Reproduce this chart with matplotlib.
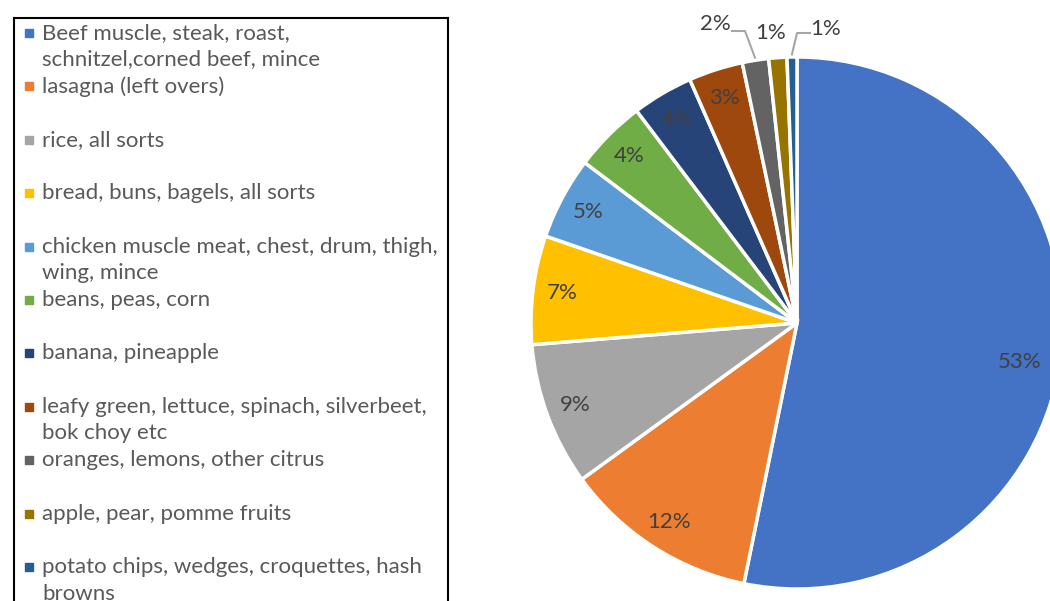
import matplotlib
matplotlib.use("Agg")
import matplotlib.pyplot as plt
from matplotlib.patches import Rectangle
import numpy as np

plt.rcParams['font.family'] = ['Lato', 'DejaVu Sans']

labels = [
    "Beef muscle, steak, roast,\nschnitzel,corned beef, mince",
    "lasagna (left overs)",
    "rice, all sorts",
    "bread, buns, bagels, all sorts",
    "chicken muscle meat, chest, drum, thigh,\nwing, mince",
    "beans, peas, corn",
    "banana, pineapple",
    "leafy green, lettuce, spinach, silverbeet,\nbok choy etc",
    "oranges, lemons, other citrus",
    "apple, pear, pomme fruits",
    "potato chips, wedges, croquettes, hash\nbrowns",
]
shares = [53.2, 11.8, 8.7, 6.6, 5.0, 4.4, 3.7, 3.3, 1.6, 1.1, 0.6]
colors = ["#4472C4", "#ED7D31", "#A5A5A5", "#FFC000", "#5B9BD5", "#70AD47",
          "#264478", "#9E480E", "#636363", "#997300", "#255E91"]

W, H = 1050, 601
fig = plt.figure(figsize=(W / 100, H / 100), dpi=100)

# pie, centre at (797, 323) px, radius 266 px
cx, cy, R = 797, 323, 266
ax = fig.add_axes([(cx - R) / W, (H - cy - R) / H, 2 * R / W, 2 * R / H])
wedges, texts, autotexts = ax.pie(
    shares, colors=colors, startangle=90, counterclock=False, radius=1,
    autopct='%.0f%%', pctdistance=0.89,
    wedgeprops=dict(edgecolor='white', linewidth=2.5),
    textprops=dict(color='#404040', fontsize=16))
ax.set_xlim(-1, 1)
ax.set_ylim(-1, 1)
ax.axis('off')


def px(x, y):
    return (x - cx) / R, (cy - y) / R


autotexts[0].set_position((0.85 * np.cos(np.radians(-10)), 0.85 * np.sin(np.radians(-10))))

# small slices: labels outside
outside = {8: (715, 24), 9: (771, 33), 10: (826, 29)}
for i, (x, y) in outside.items():
    autotexts[i].set_position(px(x, y))
    autotexts[i].set_ha('center')
    autotexts[i].set_va('center')

for i, pts in {8: [(732, 31), (745, 31)], 10: [(810, 33), (797, 33)]}.items():
    ang = np.radians((wedges[i].theta1 + wedges[i].theta2) / 2)
    xs = [px(*p)[0] for p in pts] + [1.01 * np.cos(ang)]
    ys = [px(*p)[1] for p in pts] + [1.01 * np.sin(ang)]
    ax.plot(xs, ys, color='#A6A6A6', lw=1.5, clip_on=False)

# legend box, drawn in pixel coordinates
lx0, lx1, ly0, ly1 = 14, 448, 18, 660
lax = fig.add_axes([lx0 / W, (H - ly1) / H, (lx1 - lx0) / W, (ly1 - ly0) / H])
lax.set_xlim(lx0, lx1)
lax.set_ylim(ly1, ly0)
lax.set_xticks([])
lax.set_yticks([])
for s in lax.spines.values():
    s.set_color('black')
    s.set_linewidth(1.5)

for i, (lab, col) in enumerate(zip(labels, colors)):
    y = 33 + 53.4 * i
    lax.add_patch(Rectangle((25, y - 4), 8, 8, color=col))
    for j, line in enumerate(lab.split("\n")):
        lax.text(42, y + 26.5 * j, line, va='center', ha='left',
                 fontsize=16, color='#595959')

fig.savefig('out.png', dpi=100)
